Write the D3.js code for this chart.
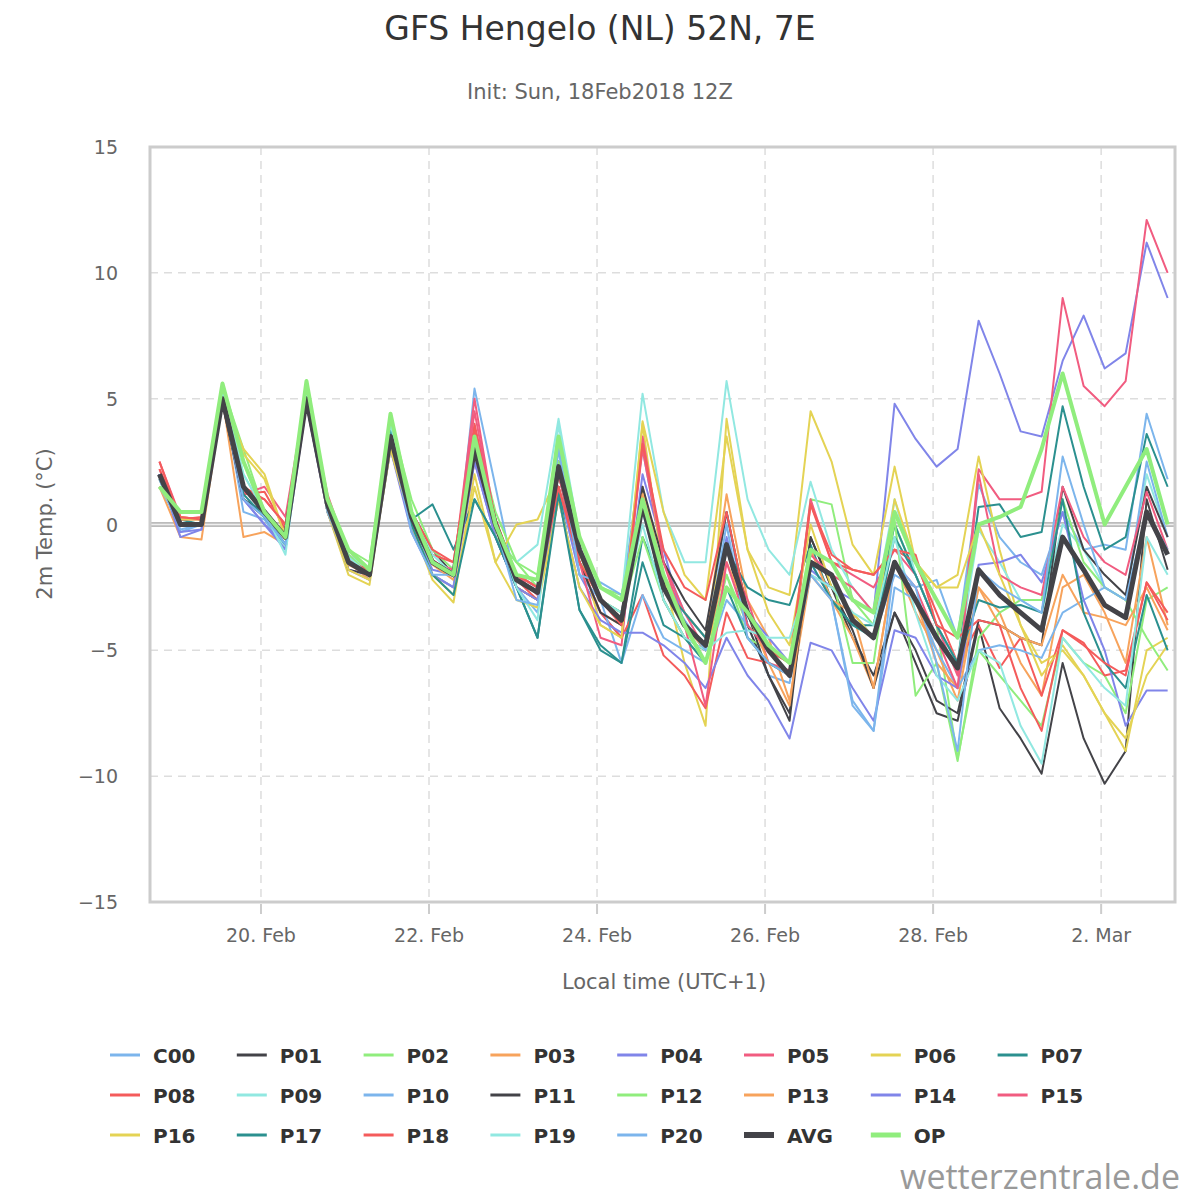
<!DOCTYPE html>
<html><head><meta charset="utf-8">
<script src="https://cdn.jsdelivr.net/npm/d3@7"></script>
<style>body{margin:0;background:#fff;font-family:"DejaVu Sans",sans-serif}</style>
</head><body><svg id="c" width="1200" height="1200"></svg>
<script>
// hours relative to 20 Feb 00:00 local; first value at 18 Feb 19:00, 6h step
var startHour = -29, stepHour = 6;
var tickHours = [0, 48, 96, 144, 192, 240];
var tickLabels = ['20. Feb', '22. Feb', '24. Feb', '26. Feb', '28. Feb', '2. Mar'];
var yTicks = [-15, -10, -5, 0, 5, 10, 15];
var names = ['C00','P01','P02','P03','P04','P05','P06','P07','P08','P09','P10','P11','P12','P13','P14','P15','P16','P17','P18','P19','P20','AVG','OP'];
var palette = ['#7cb5ec','#434348','#90ed7d','#f7a35c','#8085e9','#f15c80','#e4d354','#2b908f','#f45b5b','#91e8e1'];

var C00=[1.8,-0.3,0.0,5.2,0.5,0.2,-1.0,5.5,0.5,-1.5,-2.0,3.8,-0.2,-2.0,-2.5,5.4,1.5,-2.5,-3.0,3.5,-1.5,-2.5,-3.0,3.0,-1.5,-3.5,-4.5,0.5,-4.0,-6.0,-6.3,-2.0,-2.5,-3.5,-4.5,-2.0,-2.5,-2.2,-4.5,1.6,-0.5,-1.5,-2.0,0.5,-1.0,-0.8,-1.0,4.4,1.8];
var P01=[2.0,0.0,0.0,5.0,1.0,0.5,-0.5,5.0,0.5,-1.5,-2.0,3.5,0.5,-1.0,-2.0,3.0,0.0,-2.0,-2.5,2.5,-1.0,-3.0,-3.5,1.0,-3.0,-4.5,-5.0,-1.0,-4.0,-6.0,-7.5,-0.5,-2.5,-4.5,-6.0,-3.5,-5.5,-7.5,-7.8,-4.0,-7.3,-8.5,-9.9,-5.5,-8.5,-10.3,-9.0,1.0,-1.8];
var P02=[1.5,0.5,0.5,5.5,3.0,0.5,-0.5,5.5,1.0,-1.0,-1.5,4.2,1.0,-1.0,-1.8,3.8,0.5,-1.5,-2.0,3.0,-0.5,-2.5,-2.8,1.2,-2.0,-4.0,-5.0,-2.0,-4.5,-5.0,-6.0,1.0,0.8,-3.0,-4.0,0.0,-2.0,-4.0,-9.3,-5.0,-6.0,-7.0,-8.0,-4.5,-5.5,-6.0,-7.5,-3.0,-2.5];
var P03=[1.5,-0.5,-0.6,5.0,-0.5,-0.3,-0.8,4.8,0.5,-1.5,-2.2,3.2,0.0,-2.0,-2.5,2.5,0.2,-2.0,-2.5,1.5,-1.5,-3.5,-4.0,1.5,-2.0,-3.5,-4.5,1.2,-3.0,-4.5,-7.0,-2.0,-3.0,-4.5,-6.5,-1.5,-3.5,-5.0,-7.0,-2.5,-3.5,-5.5,-6.8,-2.5,-2.0,-3.5,-5.5,-0.5,-4.0];
var P04=[2.0,-0.5,-0.2,5.0,1.0,0.0,-0.8,4.8,0.5,-1.8,-2.0,3.0,0.0,-1.8,-2.0,2.5,-0.5,-2.0,-2.5,1.5,-2.0,-3.5,-4.5,2.0,-1.0,-4.0,-5.0,-0.5,-3.5,-4.5,-5.5,-1.8,-2.5,-3.0,-3.5,4.8,3.4,2.3,3.0,8.1,6.0,3.7,3.5,6.5,8.3,6.2,6.8,11.2,9.0];
var P05=[2.5,0.3,0.2,5.2,1.2,1.5,0.3,5.3,1.2,-1.2,-1.8,3.6,0.5,-1.5,-1.8,5.0,0.0,-2.0,-2.8,2.0,-1.0,-3.0,-4.0,3.0,-1.5,-3.5,-5.0,-1.0,-3.0,-5.5,-5.8,1.0,-1.5,-2.0,-2.5,-1.0,-2.0,-4.0,-6.0,2.2,1.0,1.0,1.3,9.0,5.5,4.7,5.7,12.1,10.0];
var P06=[1.5,0.3,0.2,5.0,3.0,2.0,-0.5,5.0,0.5,-2.0,-2.4,3.3,0.0,-2.2,-3.1,2.0,-1.5,0.0,0.2,2.0,-1.0,-4.0,-4.5,4.0,-2.0,-5.5,-8.0,4.2,-1.0,-2.5,-2.8,4.5,2.5,-0.8,-2.0,2.3,-1.5,-2.5,-2.0,2.7,-1.0,-4.0,-5.5,-5.0,-6.0,-7.5,-9.0,-5.0,-4.5];
var P07=[2.0,0.2,0.0,5.0,1.5,0.5,-0.5,5.0,1.0,-1.5,-1.8,3.8,0.2,0.8,-1.0,1.0,-0.5,-2.5,-4.5,1.5,-3.4,-4.8,-5.5,-0.5,-2.5,-3.5,-4.5,-1.0,-2.5,-3.0,-3.2,-0.8,-3.0,-4.0,-4.0,0.0,-2.0,-4.0,-5.5,0.7,0.8,-0.5,-0.3,4.7,1.5,-1.0,-0.5,3.6,1.5];
var P08=[2.5,0.2,0.3,5.2,1.2,1.3,-0.2,5.0,1.0,-1.3,-2.0,3.2,0.2,-1.2,-1.5,4.0,0.2,-2.2,-3.0,1.5,-1.5,-3.5,-4.5,-2.8,-5.2,-6.0,-7.3,-3.5,-5.3,-5.5,-6.0,0.8,-1.5,-1.8,-2.0,-1.0,-1.5,-3.5,-5.5,-4.0,-5.7,-4.5,-6.8,-4.2,-4.7,-6.0,-5.8,-2.3,-3.5];
var P09=[1.8,0.0,0.0,5.5,2.0,0.5,-1.0,5.5,0.8,-1.2,-1.8,4.0,0.5,-1.2,-2.0,3.5,-0.5,-1.5,-0.8,4.2,-0.5,-2.5,-3.0,5.2,0.5,-1.5,-1.5,5.7,1.0,-1.0,-2.0,1.7,-1.0,-2.5,-3.5,1.0,-2.0,-4.0,-5.5,-0.2,-1.5,-3.0,-3.5,0.0,-1.0,-2.5,-3.0,2.0,-0.5];
var P10=[1.5,0.0,0.0,5.2,1.5,0.5,-0.8,5.2,0.5,-1.5,-2.0,3.5,0.2,-2.0,-2.5,3.0,0.0,-2.5,-3.5,3.0,-2.0,-3.0,-5.5,-2.8,-4.5,-5.0,-5.5,-3.0,-4.0,-5.0,-6.0,-1.5,-3.0,-7.0,-8.2,-2.5,-3.0,-5.0,-6.5,-5.0,-4.8,-5.0,-5.3,-3.5,-3.0,-2.5,-3.0,2.5,-0.5];
var P11=[2.0,0.0,0.0,4.8,1.0,0.3,-0.5,4.8,0.7,-1.8,-2.0,3.5,0.0,-1.5,-2.0,3.0,-0.5,-2.5,-3.0,2.0,-1.5,-3.5,-4.0,1.5,-1.5,-3.0,-4.2,0.5,-3.5,-6.0,-7.8,-0.5,-2.5,-4.2,-6.5,-3.5,-5.0,-7.0,-7.5,-3.8,-4.0,-4.5,-4.8,1.5,-1.0,-2.0,-2.8,1.5,-0.5];
var P12=[1.5,0.5,0.5,5.5,2.5,0.3,-0.5,5.5,1.0,-1.2,-2.0,4.3,0.5,-1.5,-2.0,3.2,-0.5,-1.5,-2.5,2.5,-0.5,-3.0,-3.5,-0.5,-3.0,-4.5,-5.5,-2.0,-4.0,-5.0,-5.5,-1.5,-2.0,-5.5,-5.5,0.2,-6.8,-5.5,-9.4,-4.5,-3.5,-3.0,-3.0,1.0,-1.5,-2.5,-3.0,-4.5,-5.8];
var P13=[1.8,0.0,0.0,5.0,1.5,0.5,-0.6,5.0,0.6,-1.6,-2.0,3.4,0.2,-1.6,-2.2,2.8,0.0,-2.5,-3.0,2.0,-1.2,-3.0,-3.8,1.2,-2.5,-4.0,-5.0,-1.5,-3.5,-5.5,-7.2,-1.0,-3.0,-3.5,-6.5,-1.5,-3.0,-5.5,-6.5,-2.5,-4.0,-4.5,-4.8,-2.0,-3.5,-3.7,-4.0,-2.5,-4.2];
var P14=[2.0,-0.3,-0.2,5.0,1.0,0.0,-1.0,4.8,0.5,-1.8,-2.2,3.0,-0.3,-2.0,-2.5,2.5,-0.5,-2.5,-3.0,1.0,-2.5,-3.8,-4.3,-4.3,-4.8,-5.5,-6.5,-4.5,-6.0,-7.0,-8.5,-4.7,-5.0,-6.5,-7.8,-4.2,-4.5,-6.0,-6.5,-1.6,-1.5,-1.2,-2.3,0.5,-3.0,-5.0,-8.0,-6.6,-6.6];
var P15=[2.2,0.2,0.2,5.0,1.3,1.0,0.0,5.0,1.0,-1.5,-2.0,3.5,0.3,-1.4,-2.0,4.5,0.0,-2.0,-2.5,2.0,-1.5,-4.5,-4.8,3.5,-1.5,-4.0,-7.2,-1.5,-4.0,-5.0,-5.5,-1.2,-2.0,-2.5,-3.5,-1.5,-2.5,-4.5,-6.5,2.0,-2.0,-2.5,-2.8,1.5,-0.5,-1.5,-2.0,1.3,-1.0];
var P16=[1.5,0.2,0.2,5.0,2.8,1.8,-0.5,5.0,0.5,-1.8,-2.2,3.0,0.0,-2.0,-2.8,1.5,-1.5,-3.0,-3.3,1.0,-2.5,-4.0,-4.5,4.1,0.5,-2.0,-3.0,3.5,-1.0,-3.5,-4.8,0.0,-2.5,-3.5,-4.5,1.0,-1.5,-2.5,-2.5,0.0,-2.0,-4.0,-6.0,-4.8,-6.0,-7.5,-8.5,-6.0,-4.8];
var P17=[1.8,0.0,0.0,5.0,1.2,0.3,-0.8,5.0,0.8,-1.5,-2.0,3.8,0.0,-2.0,-2.8,1.0,-0.5,-2.5,-4.5,1.2,-3.4,-5.0,-5.5,-1.5,-4.0,-4.5,-5.5,-2.5,-4.5,-5.5,-6.0,-1.5,-3.0,-4.0,-4.5,-0.5,-2.0,-4.0,-5.5,-3.0,-3.3,-3.2,-3.5,1.0,-3.5,-5.5,-6.5,-2.8,-5.0];
var P18=[2.2,0.3,0.2,5.0,1.5,1.0,0.0,5.0,0.8,-1.5,-1.8,3.5,0.5,-1.0,-1.5,3.8,0.2,-2.0,-2.5,1.5,-1.5,-3.0,-4.0,3.2,-1.0,-2.5,-3.0,0.5,-3.5,-5.0,-5.5,0.8,-1.2,-1.8,-2.0,-1.0,-1.2,-4.0,-4.5,-3.8,-4.0,-6.5,-8.2,-4.2,-4.8,-5.5,-6.0,-2.3,-3.8];
var P19=[1.8,0.0,0.0,5.2,2.0,0.5,-1.2,5.3,0.8,-1.3,-2.0,4.0,0.3,-1.5,-2.0,3.3,0.0,-2.5,-3.8,4.0,-1.0,-3.0,-3.5,0.0,-3.0,-4.5,-5.0,-4.3,-4.2,-4.5,-4.5,-2.0,-2.5,-3.5,-4.0,-0.5,-3.5,-6.0,-7.0,-5.0,-5.5,-8.0,-9.5,-4.5,-5.5,-6.5,-7.2,-0.5,-2.0];
var P20=[1.8,-0.2,0.0,5.0,1.0,0.3,-0.8,5.0,0.5,-1.5,-2.0,3.5,-0.3,-2.0,-2.0,3.0,0.0,-3.0,-3.2,3.0,-2.0,-2.3,-2.8,0.5,-2.5,-3.8,-5.0,0.0,-4.5,-5.5,-6.0,-2.0,-3.0,-7.2,-8.2,-1.5,-2.5,-5.5,-9.0,-1.8,-2.5,-3.0,-3.5,2.7,0.0,-2.5,-3.0,0.5,-1.0];
var AVG=[2.0,0.0,0.0,5.0,1.5,0.5,-0.5,5.0,0.8,-1.5,-2.0,3.5,0.3,-1.5,-2.0,3.0,0.0,-2.2,-2.7,2.3,-1.0,-3.0,-3.8,0.8,-2.5,-4.0,-4.8,-0.8,-3.5,-5.0,-6.0,-1.5,-2.0,-3.8,-4.5,-1.5,-3.0,-4.5,-5.7,-1.8,-2.8,-3.5,-4.2,-0.5,-1.8,-3.2,-3.7,0.5,-1.2];
var OP=[1.5,0.5,0.5,5.6,2.5,0.5,-0.5,5.7,1.0,-1.0,-1.8,4.4,0.5,-1.5,-2.0,3.5,0.0,-2.0,-2.2,3.5,-0.5,-2.5,-3.0,1.0,-2.0,-4.0,-5.5,-2.5,-3.5,-4.8,-5.5,-1.0,-1.5,-3.0,-3.5,0.5,-1.5,-3.0,-4.5,0.0,0.3,0.7,3.0,6.0,3.0,0.0,1.5,3.0,0.0];
var seriesData = [C00,P01,P02,P03,P04,P05,P06,P07,P08,P09,P10,P11,P12,P13,P14,P15,P16,P17,P18,P19,P20,AVG,OP];

var svg = d3.select('#c');
var x = d3.scaleLinear().domain([-31.7, 261.1]).range([150, 1175]);
var y = d3.scaleLinear().domain([-15, 15]).range([902, 147]);

function colorOf(i) {
    if (names[i] == 'AVG') return '#434348';
    if (names[i] == 'OP') return '#90ed7d';
    return palette[i % 10];
}
function widthOf(i) {
    if (names[i] == 'AVG') return 5;
    if (names[i] == 'OP') return 4;
    return 2;
}

// titles
svg.append('text').attr('x', 600).attr('y', 40).attr('text-anchor', 'middle')
    .attr('font-size', 33).attr('fill', '#333').text('GFS Hengelo (NL) 52N, 7E');
svg.append('text').attr('x', 600).attr('y', 99).attr('text-anchor', 'middle')
    .attr('font-size', 21).attr('fill', '#666').text('Init: Sun, 18Feb2018 12Z');

// grid
svg.append('g').selectAll('line').data(yTicks.slice(1, -1)).join('line')
    .attr('x1', 150).attr('x2', 1175).attr('y1', function (d) { return y(d); }).attr('y2', function (d) { return y(d); })
    .attr('stroke', '#ddd').attr('stroke-width', 1.5).attr('stroke-dasharray', '8,6');
svg.append('g').selectAll('line').data(tickHours).join('line')
    .attr('y1', 147).attr('y2', 902).attr('x1', function (d) { return x(d); }).attr('x2', function (d) { return x(d); })
    .attr('stroke', '#ddd').attr('stroke-width', 1.5).attr('stroke-dasharray', '8,6');
// zero line
svg.append('line').attr('x1', 150).attr('x2', 1175).attr('y1', y(0)).attr('y2', y(0))
    .attr('stroke', '#bbb').attr('stroke-width', 5);
svg.append('line').attr('x1', 150).attr('x2', 1175).attr('y1', y(0)).attr('y2', y(0))
    .attr('stroke', '#eee').attr('stroke-width', 1.5);

// y labels
svg.append('g').selectAll('text').data(yTicks).join('text')
    .attr('x', 118).attr('y', function (d) { return y(d) + 7; }).attr('text-anchor', 'end')
    .attr('font-size', 19).attr('fill', '#666')
    .text(function (d) { return d < 0 ? '\u2212' + Math.abs(d) : d; });
svg.append('text').attr('transform', 'translate(52,524) rotate(-90)').attr('text-anchor', 'middle')
    .attr('font-size', 21).attr('fill', '#666').text('2m Temp. (°C)');

// x labels
svg.append('g').selectAll('line').data(tickHours).join('line')
    .attr('x1', function (d) { return x(d); }).attr('x2', function (d) { return x(d); })
    .attr('y1', 904).attr('y2', 914).attr('stroke', '#ccc').attr('stroke-width', 2);
svg.append('g').selectAll('text').data(tickHours).join('text')
    .attr('x', function (d) { return x(d); }).attr('y', 942).attr('text-anchor', 'middle')
    .attr('font-size', 19).attr('fill', '#666').text(function (d, i) { return tickLabels[i]; });
svg.append('text').attr('x', 664).attr('y', 989).attr('text-anchor', 'middle')
    .attr('font-size', 21).attr('fill', '#666').text('Local time (UTC+1)');

// series
var line = d3.line().x(function (d, i) { return x(startHour + i * stepHour); }).y(function (d) { return y(d); });
svg.append('g').selectAll('path').data(seriesData).join('path')
    .attr('d', line).attr('fill', 'none')
    .attr('stroke', function (d, i) { return colorOf(i); })
    .attr('stroke-width', function (d, i) { return widthOf(i); })
    .attr('stroke-linejoin', 'round');

// plot border
svg.append('rect').attr('x', 150).attr('y', 147).attr('width', 1025).attr('height', 755)
    .attr('fill', 'none').attr('stroke', '#ccc').attr('stroke-width', 3);

// legend
var lg = svg.append('g').selectAll('g').data(names).join('g')
    .attr('transform', function (d, i) { return 'translate(' + (110 + (i % 8) * 126.8) + ',' + (1055 + Math.floor(i / 8) * 40) + ')'; });
lg.append('line').attr('x1', 0).attr('x2', 30).attr('y1', 0).attr('y2', 0)
    .attr('stroke', function (d, i) { return colorOf(i); })
    .attr('stroke-width', function (d, i) { return widthOf(i) + 1; });
lg.append('text').attr('x', 43).attr('y', 8).attr('font-size', 20).attr('font-weight', 'bold')
    .attr('fill', '#333').text(function (d) { return d; });

svg.append('text').attr('x', 1180).attr('y', 1189).attr('text-anchor', 'end')
    .attr('font-family', '"Open Sans", sans-serif')
    .attr('font-size', 34).attr('fill', '#999').text('wetterzentrale.de');
</script></body></html>
